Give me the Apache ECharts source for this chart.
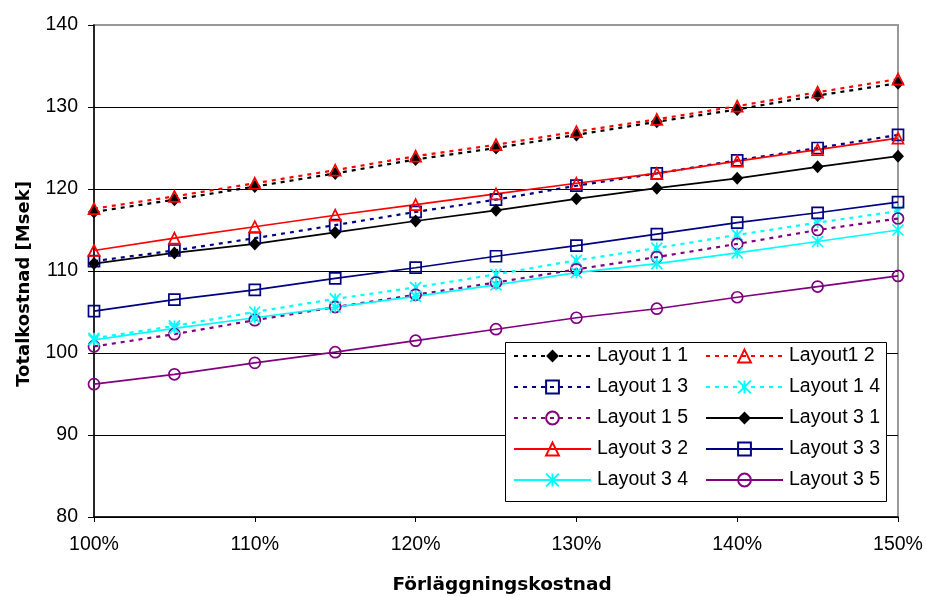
<!DOCTYPE html>
<html>
<head>
<meta charset="utf-8">
<script src="https://cdn.jsdelivr.net/npm/echarts@6/dist/echarts.min.js"></script>
<style>
  html, body { margin: 0; padding: 0; background: #fff; }
  #chart { width: 926px; height: 597px; }
</style>
</head>
<body>
<div id="chart"></div>
<script>
// Förläggningskostnad (cable laying cost) steps
const categories = ['100%', '105%', '110%', '115%', '120%', '125%', '130%', '135%', '140%', '145%', '150%'];

// Totalkostnad [Msek] per layout
const layout1_1 = [117.2, 118.7, 120.3, 121.9, 123.6, 125.0, 126.6, 128.2, 129.7, 131.4, 132.9];
const layout1_2 = [117.6, 119.1, 120.7, 122.3, 124.0, 125.4, 127.0, 128.5, 130.1, 131.8, 133.4];
const layout1_3 = [111.2, 112.5, 114.0, 115.6, 117.2, 118.7, 120.4, 121.9, 123.5, 125.0, 126.6];
const layout1_4 = [101.8, 103.3, 105.0, 106.6, 108.0, 109.6, 111.3, 112.8, 114.4, 115.9, 117.3];
const layout1_5 = [100.8, 102.3, 104.0, 105.6, 107.1, 108.6, 110.2, 111.7, 113.3, 115.0, 116.4];
const layout3_1 = [110.9, 112.2, 113.3, 114.7, 116.1, 117.4, 118.8, 120.1, 121.3, 122.7, 124.0];
const layout3_2 = [112.5, 114.0, 115.4, 116.8, 118.1, 119.4, 120.7, 121.9, 123.4, 124.8, 126.2];
const layout3_3 = [105.1, 106.5, 107.7, 109.1, 110.4, 111.8, 113.1, 114.5, 115.9, 117.1, 118.4];
const layout3_4 = [101.6, 103.0, 104.3, 105.6, 106.9, 108.3, 109.8, 110.9, 112.2, 113.6, 115.0];
const layout3_5 = [96.2, 97.4, 98.8, 100.1, 101.5, 102.9, 104.3, 105.4, 106.8, 108.1, 109.4];

const yTicks = { min: 80, max: 140, interval: 10 };

const FONT = '"Liberation Sans", Arial, sans-serif';
const TITLE_FONT = '"DejaVu Sans", "Liberation Sans", sans-serif';
const ASTERISK = 'path://M0,0L10,10M10,0L0,10M5,0L5,10';
const DOTTED = [4, 5];

function makeSeries(name, data, color, symbol, dotted, filled) {
  return {
    name: name,
    type: 'line',
    data: data,
    symbol: symbol,
    symbolSize: symbol === 'diamond' ? [12, 13] : 11,
    showSymbol: true,
    animation: false,
    lineStyle: { color: color, width: dotted ? 2.2 : 1.7, type: dotted ? DOTTED : 'solid' },
    itemStyle: {
      color: filled ? color : 'rgba(255,255,255,0)',
      borderColor: color,
      borderWidth: filled ? 0 : 1.7
    },
    emphasis: { disabled: true }
  };
}

const series = [
  makeSeries('Layout 1 1', layout1_1, '#000000', 'diamond', true, true),
  makeSeries('Layout1 2', layout1_2, '#FF0000', 'triangle', true, false),
  makeSeries('Layout 1 3', layout1_3, '#000080', 'rect', true, false),
  makeSeries('Layout 1 4', layout1_4, '#00FFFF', ASTERISK, true, false),
  makeSeries('Layout 1 5', layout1_5, '#800080', 'circle', true, false),
  makeSeries('Layout 3 1', layout3_1, '#000000', 'diamond', false, true),
  makeSeries('Layout 3 2', layout3_2, '#FF0000', 'triangle', false, false),
  makeSeries('Layout 3 3', layout3_3, '#000080', 'rect', false, false),
  makeSeries('Layout 3 4', layout3_4, '#00FFFF', ASTERISK, false, false),
  makeSeries('Layout 3 5', layout3_5, '#800080', 'circle', false, false)
];

const legendCommon = {
  orient: 'vertical',
  top: 346,
  padding: 0,
  itemWidth: 77,
  itemHeight: 16,
  itemGap: 11,
  selectedMode: false,
  textStyle: { fontFamily: FONT, fontSize: 19.5, color: '#000', lineHeight: 20, padding: [0, 0, 0, 1] },
  z: 5
};

const chart = echarts.init(document.getElementById('chart'), null, { renderer: 'canvas' });

chart.setOption({
  backgroundColor: '#fff',
  animation: false,
  grid: {
    left: 94, right: 28, top: 25, bottom: 80,
    show: true, borderColor: '#999999', borderWidth: 2, backgroundColor: 'transparent'
  },
  xAxis: {
    type: 'category',
    data: categories,
    boundaryGap: false,
    axisLine: { lineStyle: { color: '#000', width: 1.5 } },
    axisTick: { show: true, interval: 1, length: 5, lineStyle: { color: '#000' } },
    axisLabel: { interval: 1, margin: 18, fontFamily: FONT, fontSize: 19.5, color: '#000' },
    splitLine: { show: false }
  },
  yAxis: {
    type: 'value',
    min: yTicks.min,
    max: yTicks.max,
    interval: yTicks.interval,
    axisLine: { show: true, lineStyle: { color: '#000', width: 1.5 } },
    axisTick: { show: true, length: 6, lineStyle: { color: '#000' } },
    axisLabel: { margin: 16, fontFamily: FONT, fontSize: 19.5, color: '#000' },
    splitLine: {
      show: true,
      lineStyle: { color: ['#000', '#000', '#000', '#000', '#000', '#000', '#999'], width: 1 }
    }
  },
  legend: [
    Object.assign({}, legendCommon, {
      left: 513,
      data: ['Layout 1 1', 'Layout 1 3', 'Layout 1 5', 'Layout 3 2', 'Layout 3 4']
    }),
    Object.assign({}, legendCommon, {
      left: 705,
      data: ['Layout1 2', 'Layout 1 4', 'Layout 3 1', 'Layout 3 3', 'Layout 3 5']
    })
  ],
  graphic: [
    {
      type: 'rect',
      shape: { x: 505.5, y: 342.5, width: 381, height: 159 },
      style: { fill: '#fff', stroke: '#000', lineWidth: 1 },
      z: 4
    },
    {
      type: 'text',
      x: 24,
      y: 284,
      rotation: Math.PI / 2,
      style: {
        text: 'Totalkostnad [Msek]',
        font: 'bold 18px ' + TITLE_FONT,
        fill: '#000',
        textAlign: 'center',
        textVerticalAlign: 'middle'
      }
    },
    {
      type: 'text',
      x: 502,
      y: 585,
      style: {
        text: 'Förläggningskostnad',
        font: 'bold 18.5px ' + TITLE_FONT,
        fill: '#000',
        textAlign: 'center',
        textVerticalAlign: 'middle'
      }
    }
  ],
  series: series
});
</script>
</body>
</html>
